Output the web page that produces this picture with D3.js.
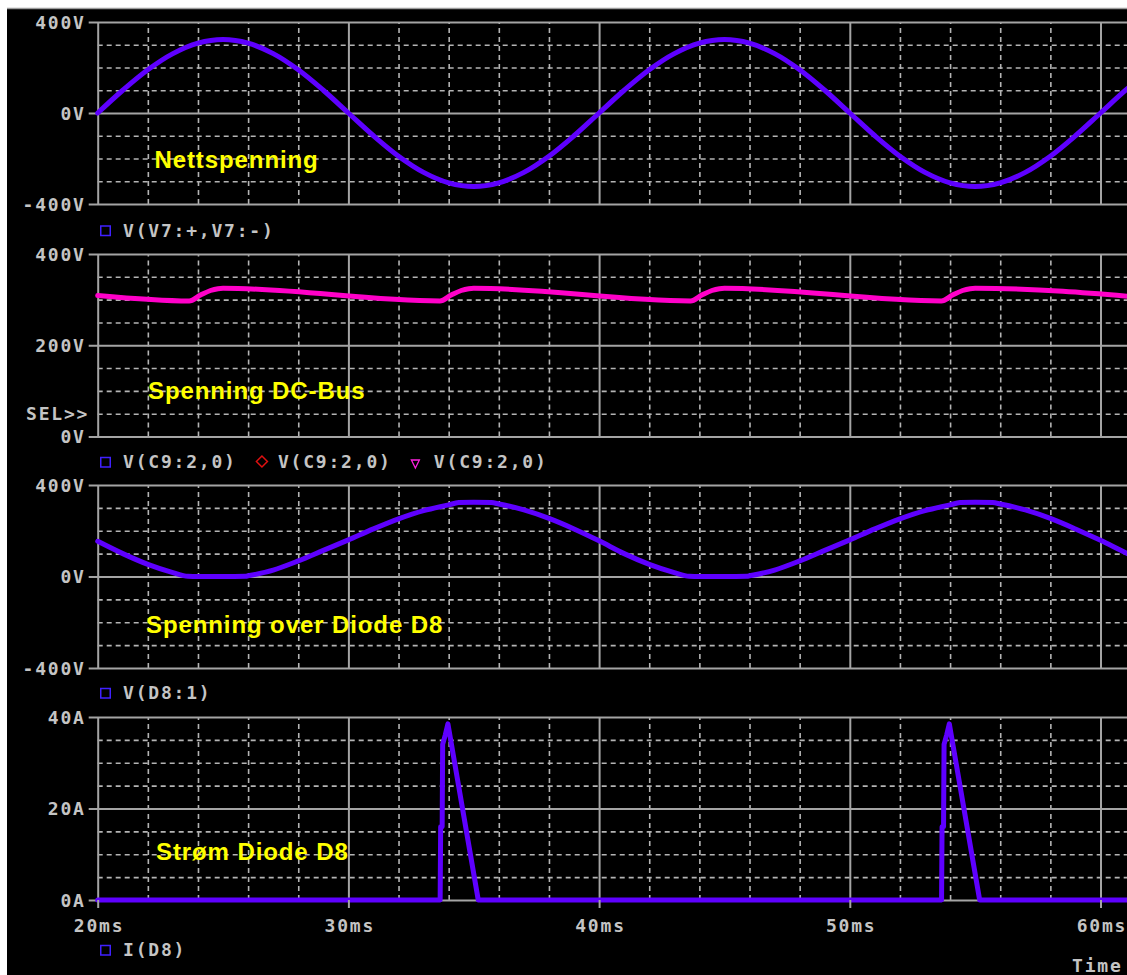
<!DOCTYPE html>
<html>
<head>
<meta charset="utf-8">
<script src="https://cdn.jsdelivr.net/npm/d3@7"></script>
<style>
  html, body { margin: 0; padding: 0; background: #fff; }
  svg { display: block; }
  .lbl { font-family: "DejaVu Sans Mono", monospace; font-weight: bold; font-size: 18px; fill: #c4c4c4; letter-spacing: 1.8px; }
  .note { font-family: "Liberation Sans", Arial, sans-serif; font-weight: bold; font-size: 24px; fill: #ffff00; letter-spacing: 0.9px; }
</style>
</head>
<body>
<svg id="chart" width="1127" height="975"></svg>
<script>
// ---- time axis (ms) ----
const timeTicks = [20, 30, 40, 50, 60];
const timeMinor = [22, 24, 26, 28, 32, 34, 36, 38, 42, 44, 46, 48, 52, 54, 56, 58];

// ---- value axes ----
const voltTicks = [-400, 0, 400];
const voltMinor = [-300, -200, -100, 100, 200, 300];
const busTicks = [0, 200, 400];
const busMinor = [50, 100, 150, 250, 300, 350];
const ampTicks = [0, 20, 40];
const ampMinor = [5, 10, 15, 25, 30, 35];

// ---- V(V7:+,V7:-) : mains voltage ----
const mainsTime = [20, 21, 22, 23, 24, 25, 26, 27, 28, 29, 30, 31, 32, 33, 34, 35, 36, 37, 38, 39, 40,
                   41, 42, 43, 44, 45, 46, 47, 48, 49, 50, 51, 52, 53, 54, 55, 56, 57, 58, 59, 60, 61, 62];
const mainsVolt = [0, 100, 190, 261, 307, 323, 307, 261, 190, 100, 0, -100, -190, -261, -307, -323, -307, -261, -190, -100, 0,
                   100, 190, 261, 307, 323, 307, 261, 190, 100, 0, -100, -190, -261, -307, -323, -307, -261, -190, -100, 0, 100, 190];

// ---- V(C9:2,0) : DC bus voltage ----
const busTime = [20, 23.65, 24.1, 24.5, 24.8, 25, 33.65, 34.1, 34.5, 34.8, 35,
                 43.65, 44.1, 44.5, 44.8, 45, 53.65, 54.1, 54.5, 54.8, 55, 62];
const busVolt = [309, 297, 310, 320, 324, 325, 297, 310, 320, 324, 325,
                 297, 310, 320, 324, 325, 297, 310, 320, 324, 325, 303];

// ---- V(D8:1) : voltage across diode D8 ----
const diodeTime = [20, 21, 22, 23, 23.6, 24, 25, 25.9, 26, 27, 28, 29, 30, 31, 32, 33, 34, 34.4, 35, 35.7,
                   36, 37, 38, 39, 40, 41, 42, 43, 43.6, 44, 45, 45.9, 46, 47, 48, 49, 50, 51, 52, 53,
                   54, 54.4, 55, 55.7, 56, 57, 58, 59, 60, 61, 62];
const diodeVolt = [154, 100, 53, 17, 1, 0, 0, 1, 3, 28, 68, 114, 160, 208, 252, 288, 313, 323, 325, 323,
                   317, 291, 254, 208, 156, 100, 53, 17, 1, 0, 0, 1, 3, 28, 68, 114, 160, 208, 252, 288,
                   313, 323, 325, 323, 317, 291, 254, 208, 158, 104, 55];

// ---- I(D8) : diode current ----
const currTime = [20, 33.66, 33.68, 33.74, 33.76, 33.86, 33.97, 35.18,
                  53.66, 53.68, 53.74, 53.76, 53.86, 53.97, 55.18, 62];
const currAmp = [0, 0, 16, 16, 34, 36, 38.5, 0,
                 0, 16, 16, 34, 36, 38.5, 0, 0];

// ---- legend and annotation texts ----
const legendMains = ["V(V7:+,V7:-)"];
const legendBus = ["V(C9:2,0)", "V(C9:2,0)", "V(C9:2,0)"];
const legendDiode = ["V(D8:1)"];
const legendCurr = ["I(D8)"];
const notes = ["Nettspenning", "Spenning DC-Bus", "Spenning over Diode D8", "Strøm Diode D8"];

const W = 1127, H = 975;
const LS = 1.8; // letter spacing of the axis font
const svg = d3.select("#chart");
const x = d3.scaleLinear().domain([20, 60]).range([97.7, 1100.5]);
const x0 = x(20);

const BLUE = "#5e00ff", PINK = "#ff00c8";
const GRID_SOLID = "#a4a4a4", GRID_DASH = "#b4b4b4";

// background frame
svg.append("rect").attr("width", W).attr("height", H).attr("fill", "#ffffff");
svg.append("rect").attr("x", 7).attr("y", 8).attr("width", W - 7).attr("height", H - 8).attr("fill", "#000");
svg.append("line").attr("x1", 7).attr("x2", W).attr("y1", 8.5).attr("y2", 8.5)
  .attr("stroke", "#9c9c9c").attr("stroke-width", 1.5);

const panels = [
  { top: 22, bottom: 204, domain: [-400, 400], major: voltTicks, minor: voltMinor, unit: "V",
    time: mainsTime, values: mainsVolt, color: BLUE, curve: d3.curveCatmullRom,
    legend: legendMains, legendColors: ["#4020ff"], markers: ["square"], legendBase: 236.5,
    note: notes[0], noteX: 154.5, noteY: 168 },
  { top: 254, bottom: 436.5, domain: [0, 400], major: busTicks, minor: busMinor, unit: "V",
    time: busTime, values: busVolt, color: PINK, curve: d3.curveMonotoneX,
    legend: legendBus, legendColors: ["#4020ff", "#e01010", "#ff20e0"], markers: ["square", "diamond", "triangle"], legendBase: 468,
    note: notes[1], noteX: 148, noteY: 399 },
  { top: 485, bottom: 668, domain: [-400, 400], major: voltTicks, minor: voltMinor, unit: "V",
    time: diodeTime, values: diodeVolt, color: BLUE, curve: d3.curveMonotoneX,
    legend: legendDiode, legendColors: ["#4020ff"], markers: ["square"], legendBase: 699,
    note: notes[2], noteX: 146, noteY: 633 },
  { top: 717, bottom: 900, domain: [0, 40], major: ampTicks, minor: ampMinor, unit: "A",
    time: currTime, values: currAmp, color: BLUE, curve: d3.curveLinear,
    legend: legendCurr, legendColors: ["#4020ff"], markers: ["square"], legendBase: 956,
    note: notes[3], noteX: 156, noteY: 860 }
];

const defs = svg.append("defs");

panels.forEach((p, i) => {
  const y = d3.scaleLinear().domain(p.domain).range([p.bottom, p.top]);
  const g = svg.append("g");
  const h = p.bottom - p.top;

  // dashed minor grid
  g.append("g").attr("transform", `translate(${x0},0)`)
    .call(d3.axisLeft(y).tickValues(p.minor).tickSize(-(W - x0)).tickFormat(""))
    .call(s => {
      s.select(".domain").remove();
      s.selectAll("line").attr("stroke", GRID_DASH).attr("stroke-width", 1.6).attr("stroke-dasharray", "5,4");
    });
  g.append("g").attr("transform", `translate(0,${p.bottom})`)
    .call(d3.axisBottom(x).tickValues(timeMinor).tickSize(-h).tickFormat(""))
    .call(s => {
      s.select(".domain").remove();
      s.selectAll("line").attr("stroke", GRID_DASH).attr("stroke-width", 1.6).attr("stroke-dasharray", "5,4");
    });

  // solid major grid with value labels
  g.append("g").attr("transform", `translate(0,${p.bottom})`)
    .call(d3.axisBottom(x).tickValues(timeTicks).tickSize(-h).tickFormat(""))
    .call(s => {
      s.select(".domain").remove();
      s.selectAll("line").attr("stroke", GRID_SOLID).attr("stroke-width", 2);
    });
  g.append("g").attr("transform", `translate(${x0},0)`)
    .call(d3.axisLeft(y).tickValues(p.major).tickSize(-(W - x0)).tickPadding(12)
      .tickFormat(d => d + p.unit))
    .call(s => {
      s.select(".domain").remove();
      s.selectAll("line").attr("x1", -9).attr("stroke", GRID_SOLID).attr("stroke-width", 2);
      s.selectAll("text").attr("class", "lbl").attr("fill", null).attr("font-size", null)
        .attr("font-family", null).attr("dy", "0.36em");
    });

  // trace
  const clipId = "clip" + i;
  defs.append("clipPath").attr("id", clipId).append("rect")
    .attr("x", x0 - 3).attr("y", p.top - 4).attr("width", W - x0 + 3).attr("height", h + 8);
  const line = d3.line().x(d => x(d[0])).y(d => y(d[1])).curve(p.curve);
  g.append("path")
    .datum(p.time.map((t, k) => [t, p.values[k]]))
    .attr("clip-path", `url(#${clipId})`)
    .attr("d", line)
    .attr("fill", "none")
    .attr("stroke", p.color)
    .attr("stroke-width", 5)
    .attr("stroke-linejoin", "round")
    .attr("stroke-linecap", "round");

  // annotation
  g.append("text").attr("class", "note").attr("x", p.noteX).attr("y", p.noteY).text(p.note);

  // legend
  let lx = 100;
  p.legend.forEach((label, k) => {
    const base = p.legendBase;
    const c = p.legendColors[k];
    const m = p.markers[k];
    if (m === "square") {
      g.append("rect").attr("x", lx + 0.75).attr("y", base - 10.5).attr("width", 9.5).attr("height", 9.5)
        .attr("fill", "none").attr("stroke", c).attr("stroke-width", 1.5);
    } else if (m === "diamond") {
      const cx = lx + 6, cy = base - 6.5;
      g.append("path").attr("d", `M${cx},${cy - 5.5}L${cx + 5.5},${cy}L${cx},${cy + 5.5}L${cx - 5.5},${cy}Z`)
        .attr("fill", "none").attr("stroke", c).attr("stroke-width", 1.5);
    } else {
      const top = base - 8;
      g.append("path").attr("d", `M${lx + 0.5},${top}L${lx + 8.5},${top}L${lx + 4.5},${top + 8}Z`)
        .attr("fill", "none").attr("stroke", c).attr("stroke-width", 1.3);
    }
    const tx = lx + (m === "diamond" ? 22 : 23);
    const t = g.append("text").attr("class", "lbl").attr("x", tx).attr("y", base).text(label);
    lx = tx + t.node().getComputedTextLength() - LS + 21;
  });

  // time axis labels on the bottom panel
  if (i === panels.length - 1) {
    g.append("g").attr("transform", `translate(0,${p.bottom})`)
      .call(d3.axisBottom(x).tickValues(timeTicks).tickSize(8).tickPadding(11.2).tickFormat(d => d + "ms"))
      .call(s => {
        s.select(".domain").remove();
        s.selectAll("line").attr("stroke", GRID_SOLID).attr("stroke-width", 2);
        s.selectAll("text").attr("class", "lbl").attr("fill", null).attr("font-size", null)
          .attr("font-family", null).attr("dx", LS / 2);
      });
  }
});

// selection marker and axis title
svg.append("text").attr("class", "lbl").attr("x", 26).attr("y", 420).text("SEL>>");
svg.append("text").attr("class", "lbl").attr("x", 1072).attr("y", 972).text("Time");
</script>
</body>
</html>
